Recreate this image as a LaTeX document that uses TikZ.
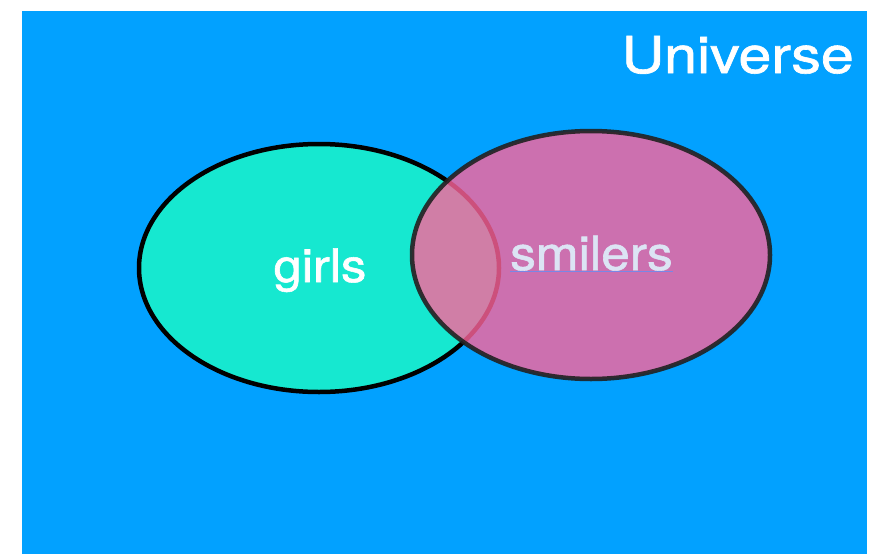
\documentclass[tikz,border=0pt]{standalone}
\usepackage{fontspec}
\setmainfont{TeX Gyre Heros}
\newfontfamily\lblfont[FakeBold=1.2]{TeX Gyre Heros}
\definecolor{univblue}{RGB}{2,161,255}
\definecolor{girlteal}{RGB}{22,232,208}
\definecolor{smilepink}{RGB}{255,100,156}
\definecolor{smiletext}{RGB}{220,228,244}
\definecolor{underl}{RGB}{120,135,230}
\begin{document}
\begin{tikzpicture}[x=1pt,y=1pt,
  lbl/.style={text=white,inner sep=0pt},
  setline/.style={line width=4.5pt}]
\useasboundingbox (0,0) rectangle (875,-554);
\fill[univblue] (21.5,-11) rectangle (867,-554);
\node[lbl,anchor=base east] (univ) at (854,-73) {\lblfont\fontsize{51}{55}\selectfont\scalebox{1.16}[1]{Universe}};
\draw[setline,black,fill=girlteal] (319,-268) ellipse [x radius=180, y radius=124];
\node[lbl,anchor=base] (girls) at (320,-282) {\lblfont\fontsize{46}{50}\selectfont\scalebox{1.1}[1]{girls}};
\draw[setline,draw=black!87,draw opacity=0.9,fill=smilepink,fill opacity=0.8] (591,-255) ellipse [x radius=179, y radius=124];
\node[lbl,anchor=base,text=smiletext] (smilers) at (591.5,-270) {\lblfont\fontsize{47}{50}\selectfont\scalebox{1.09}[1]{smilers}};
\draw[underl,line width=1.2pt] ([yshift=-1.5pt]smilers.base west) -- ([yshift=-1.5pt]smilers.base east);
\end{tikzpicture}
\end{document}
